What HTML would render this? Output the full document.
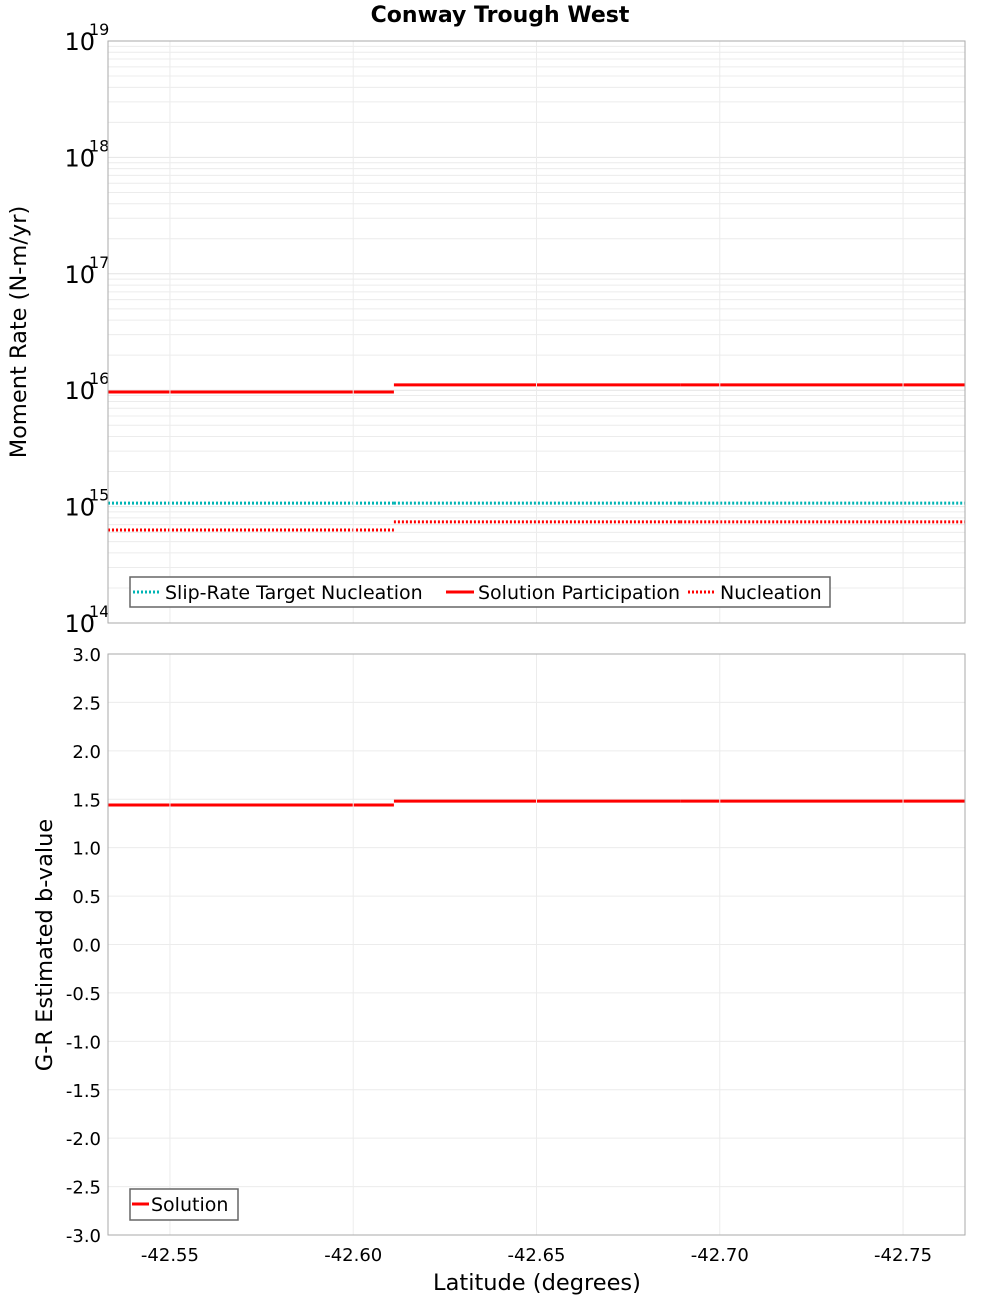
<!DOCTYPE html>
<html><head><meta charset="utf-8"><style>
body{margin:0;background:#fff}
svg{display:block;font-family:"DejaVu Sans","Liberation Sans",sans-serif}
</style></head><body>
<svg id="chart" width="1000" height="1300" viewBox="0 0 1000 1300" xmlns="http://www.w3.org/2000/svg">
<text x="500" y="22" text-anchor="middle" font-size="22" font-weight="bold">Conway Trough West</text>
<g id="topg"></g><g id="botg"></g>
<text transform="translate(26,332) rotate(-90)" text-anchor="middle" font-size="22.5">Moment Rate (N-m/yr)</text>
<text transform="translate(52,945) rotate(-90)" text-anchor="middle" font-size="22.5">G-R Estimated b-value</text>
<text x="537" y="1290" text-anchor="middle" font-size="22.5">Latitude (degrees)</text>
</svg>
<script>
const segStarts=[-42.5331,-42.6111,-42.6892];
const segEnds=[-42.6111,-42.6892,-42.7669];
const participation=[9.66e15,1.11e16,1.11e16];
const nucleation=[6.3e14,7.4e14,7.4e14];
const target=[1.07e15,1.07e15,1.07e15];
const bValues=[1.44,1.48,1.48];
const xTicks=[-42.55,-42.60,-42.65,-42.70,-42.75];
const yLogTicks=[14,15,16,17,18,19];
const yBTicks=[-3,-2.5,-2,-1.5,-1,-0.5,0,0.5,1,1.5,2,2.5,3];
const X0=108,X1=965,LAT0=-42.5331,LAT1=-42.7669;
const NS="http://www.w3.org/2000/svg";
const svgEl=document.getElementById('chart');
function el(t,a,p){const e=document.createElementNS(NS,t);for(const k in a)e.setAttribute(k,a[k]);(p||svgEl).appendChild(e);return e;}
const xs=v=>X0+(v-LAT0)/(LAT1-LAT0)*(X1-X0);
const T0=41,T1=623;
const yl=v=>T1-(Math.log10(v)-14)/5*(T1-T0);
const B0=654,B1=1235;
const yb=v=>B1-(v+3)/6*(B1-B0);
const topG=document.getElementById('topg'),botG=document.getElementById('botg');
for(let d=14;d<19;d++)for(let m=2;m<=9;m++){const y=yl(m*Math.pow(10,d));
const g=el('line',{x1:X0,x2:X1,y1:y,y2:y,stroke:'#ececec','stroke-width':1},topG);

}
yLogTicks.forEach(d=>{const y=yl(Math.pow(10,d));
const g=el('line',{x1:X0,x2:X1,y1:y,y2:y,stroke:'#e4e4e4','stroke-width':1},topG);


const t=el('text',{x:95,y:y+9,'text-anchor':'end','font-size':24},topG);t.textContent='10';


const s=el('text',{x:89,y:y-6,'font-size':16},topG);s.textContent=String(d);

});
yBTicks.forEach(v=>{const y=yb(v);
const g=el('line',{x1:X0,x2:X1,y1:y,y2:y,stroke:'#ececec','stroke-width':1},botG);


const t=el('text',{x:101,y:y+7,'text-anchor':'end','font-size':18},botG);t.textContent=v.toFixed(1);

});
xTicks.forEach(v=>{const x=xs(v);
[[T0,T1],[B0,B1]].forEach(r=>{const g=el('line',{x1:x,x2:x,y1:r[0],y2:r[1],stroke:'#ececec','stroke-width':1});

});
const t=el('text',{x:x,y:1261,'text-anchor':'middle','font-size':18});t.textContent=v.toFixed(2);

});
function seg(arr,yf,color,dash,name,g){arr.forEach((v,i)=>{const a={x1:xs(segStarts[i]),x2:xs(segEnds[i]),y1:yf(v),y2:yf(v),stroke:color,'stroke-width':3};
if(dash)a['stroke-dasharray']='2,2';const l=el('line',a,g);

});}
seg(target,yl,'#00b4b4',true,'target-nucleation-segment',topG);
seg(nucleation,yl,'#ff0000',true,'nucleation-segment',topG);
seg(participation,yl,'#ff0000',false,'participation-segment',topG);
seg(bValues,yb,'#ff0000',false,'bvalue-segment',botG);
[[T0,T1],[B0,B1]].forEach(r=>{const f=el('rect',{x:X0,y:r[0],width:X1-X0,height:r[1]-r[0],fill:'none',stroke:'#aaa','stroke-width':1});

});
const lg=el('g',{});


el('rect',{x:130,y:577,width:700,height:30,fill:'#fff',stroke:'#666','stroke-width':1.5},lg);
const items=[['Slip-Rate Target Nucleation','#00b4b4',true,133],['Solution Participation','#ff0000',false,446],['Nucleation','#ff0000',true,688]];
items.forEach(it=>{const a={x1:it[3],x2:it[3]+28,y1:592,y2:592,stroke:it[1],'stroke-width':3};if(it[2])a['stroke-dasharray']='2,2';
el('line',a,lg);const t=el('text',{x:it[3]+32,y:599,'font-size':19},lg);t.textContent=it[0];

});
const lg2=el('g',{});


el('rect',{x:130,y:1189,width:108,height:31,fill:'#fff',stroke:'#666','stroke-width':1.5},lg2);
el('line',{x1:132,x2:149,y1:1204,y2:1204,stroke:'#ff0000','stroke-width':3},lg2);
const t2=el('text',{x:151,y:1211,'font-size':19},lg2);t2.textContent='Solution';


</script>
</body></html>
